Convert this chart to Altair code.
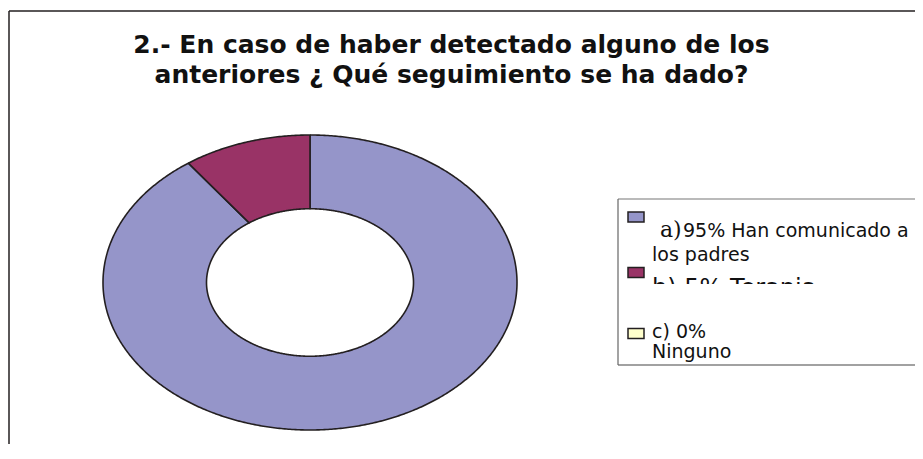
import altair as alt
import numpy as np
import pandas as pd

# ---------------- data ----------------
CATEGORIES = ["a)95% Han comunicado a los padres", "b) 5% Terapia", "c) 0% Ninguno"]
VALUES = [90, 10, 0]
COLORS = ["#9595C9", "#993366", "#FFFFCC"]
TITLE_LINES = ["2.- En caso de haber detectado alguno de los",
               "anteriores \u00bf Qu\u00e9 seguimiento se ha dado?"]
LEGEND_A = ["a)", "95% Han comunicado a", "los padres"]
LEGEND_B = ["b) 5% Terapia"]
LEGEND_C = ["c) 0%", "Ninguno"]

W, H = 907, 436
INK = "#231F20"
SANS = "DejaVu Sans"

# ---------- doughnut polygons built from the values ----------
INNER = 0.5
rows = []
total = float(sum(VALUES))
cum = 0.0
for cat, v in zip(CATEGORIES, VALUES):
    if v > 0:
        f0, f1 = cum / total, (cum + v) / total
        n = int(np.ceil(720 * (f1 - f0))) + 1
        fr = np.linspace(f0, f1, n)
        th = np.pi / 2 - 2 * np.pi * fr
        xs = list(np.cos(th)) + list(INNER * np.cos(th[::-1]))
        ys = list(np.sin(th)) + list(INNER * np.sin(th[::-1]))
        xs.append(xs[0])
        ys.append(ys[0])
        for k, (x, y) in enumerate(zip(xs, ys)):
            rows.append({"cat": cat, "k": k, "X": x, "Y": y})
    cum += v
ring_df = pd.DataFrame(rows)

cscale = alt.Scale(domain=CATEGORIES, range=COLORS)
one = pd.DataFrame({"d": [0]})

ring = alt.Chart(ring_df).mark_line(
    stroke=INK, strokeWidth=1.6, strokeJoin="round", interpolate="linear"
).encode(
    x=alt.X("X:Q", scale=alt.Scale(domain=[-1, 1], range=[95, 509], nice=False), axis=None),
    y=alt.Y("Y:Q", scale=alt.Scale(domain=[-1, 1], range=[422, 127], nice=False), axis=None),
    order="k:Q",
    detail="cat:N",
    fill=alt.Fill("cat:N", scale=cscale, legend=None),
)


def rule(x, y, x2=None, y2=None, color=INK, width=1.5):
    enc = dict(x=alt.value(x), y=alt.value(y))
    if x2 is not None:
        enc["x2"] = alt.value(x2)
    if y2 is not None:
        enc["y2"] = alt.value(y2)
    return alt.Chart(one).mark_rule(color=color, strokeWidth=width).encode(**enc)


def txt(s, x, y, size=19, font=SANS, weight="normal"):
    return alt.Chart(pd.DataFrame({"t": [s]})).mark_text(
        align="left", baseline="alphabetic", font=font, fontSize=size,
        fontWeight=weight, color="#111111"
    ).encode(text="t:N", x=alt.value(x), y=alt.value(y))


def swatch(i, y):
    return alt.Chart(pd.DataFrame({"cat": [CATEGORIES[i]]})).mark_point(
        shape="M-1,-0.625L1,-0.625L1,0.625L-1,0.625Z", size=256, filled=True,
        stroke=INK, strokeWidth=1.5, opacity=1
    ).encode(x=alt.value(628), y=alt.value(y),
             fill=alt.Fill("cat:N", scale=cscale, legend=None))


title = alt.Chart(one).mark_text(
    text=TITLE_LINES, lineHeight=30, align="center", baseline="alphabetic",
    font=SANS, fontWeight="bold", fontSize=25, color="#111111"
).encode(x=alt.value(443.5), y=alt.value(45))

# chart frame
frame = [rule(1, 3, x2=W), rule(1, 3, y2=H)]
# legend box
LX, LT, LB = 610, 191, 357
lbox = [rule(LX, LT, x2=W, color="#777777", width=1.2),
        rule(LX, LB, x2=W, color="#444444", width=1.2),
        rule(LX, LT, y2=LB, color="#666666", width=1.2)]

legend_items = [
    swatch(0, 209), swatch(1, 264.5), swatch(2, 325.5),
    txt(LEGEND_A[0], 652, 229, size=22, font="DejaVu Serif"),
    txt(LEGEND_A[1], 675, 229),
    txt(LEGEND_A[2], 644, 253),
    txt(LEGEND_B[0], 644, 288, size=24),
]
cover = alt.Chart(one).mark_rect(fill="white").encode(
    x=alt.value(612), x2=alt.value(W), y=alt.value(276), y2=alt.value(306))
legend_rest = [txt(LEGEND_C[0], 644, 329.5), txt(LEGEND_C[1], 644, 349.5)]

chart = alt.layer(
    *frame, ring, title, *lbox, *legend_items, cover, *legend_rest
).properties(
    width=W, height=H, padding=0, autosize="none", background="white"
).configure_view(stroke=None)

chart.save("out.html", embed_options={"renderer": "svg", "actions": False})
